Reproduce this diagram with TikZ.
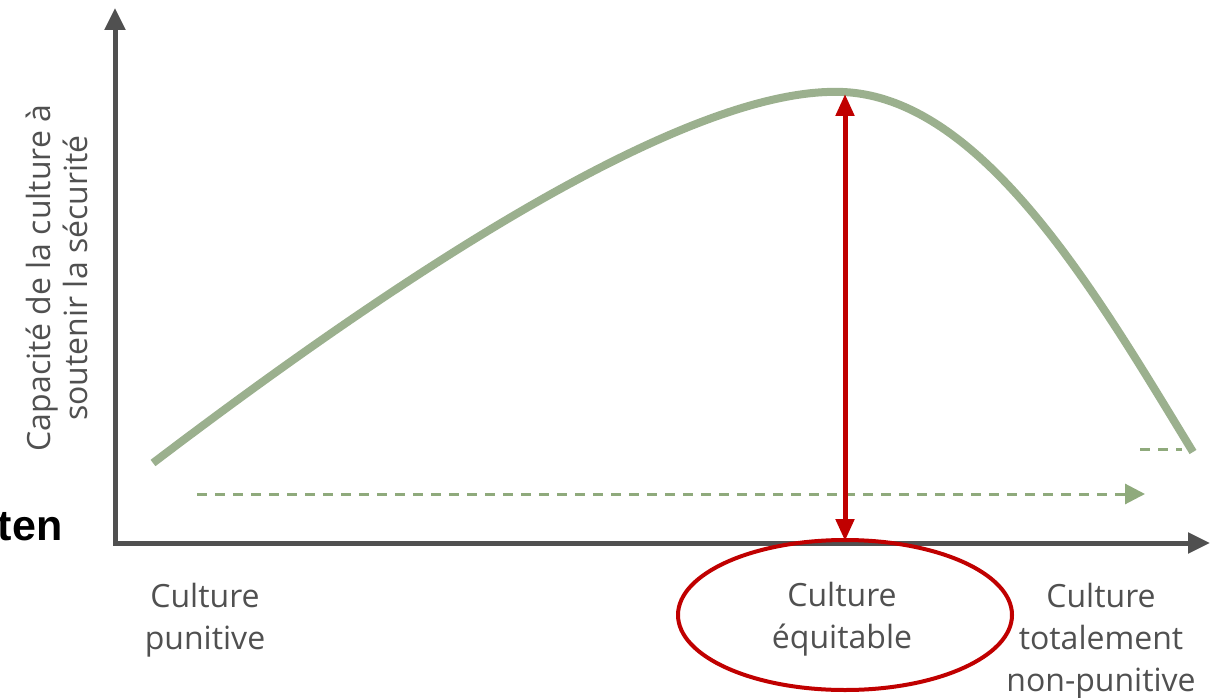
\documentclass[tikz,border=0pt]{standalone}
\usepackage{fontspec}
\setmainfont{Open Sans}
\newfontfamily\headfont{Liberation Sans}
\usetikzlibrary{arrows.meta,positioning,shapes.geometric}

\definecolor{axisgray}{HTML}{505050}
\definecolor{curvegreen}{HTML}{9BB08E}
\definecolor{dashgreen}{HTML}{8FAA7C}
\definecolor{fairred}{HTML}{C00000}
\definecolor{textgray}{HTML}{505050}

\begin{document}
\begin{tikzpicture}[x=1pt,y=-1pt,
    axis/.style={draw=axisgray,line width=5pt,line join=miter,
      {Triangle[length=22pt,width=20pt]}-{Triangle[length=22pt,width=20pt]}},
    culture/.style={text=textgray,font=\fontsize{32}{42}\selectfont,align=center},
    trend/.style={draw=dashgreen,line width=3pt,dash pattern=on 10pt off 8pt,
      -{Triangle[length=20pt,width=20pt]}}]
    \useasboundingbox (0,0) rectangle (1212,698);

    % axes
    \coordinate (ytop) at (115,8);
    \coordinate (origin) at (115,543);
    \coordinate (xend) at (1210,543);
    \draw[axis] (ytop) -- (origin) -- (xend);

    \node[culture,rotate=90,font=\fontsize{32}{37}\selectfont] (ylab) at (57,278)
      {Capacité de la culture à\\soutenir la sécurité};
    \node[anchor=base east,font=\headfont\bfseries\fontsize{43}{43}\selectfont] (cut) at (66,540) {ten};

    % support curve
    \coordinate (start) at (153,463);
    \coordinate (peak) at (843,92);
    \coordinate (end) at (1193,452);
    \draw[curvegreen,line width=8pt]
      (start) .. controls (440,245) and (700,86) .. (peak)
      .. controls (985,98) and (1100,300) .. (end);

    % trend arrows
    \coordinate (tleft) at (197,494);
    \coordinate (tright) at (1145,494);
    \draw[trend] (tleft) -- (tright);
    \coordinate (mleft) at (1140,449);
    \coordinate (mright) at (1182,449);
    \draw[dashgreen,line width=3pt,dash pattern=on 10pt off 8pt] (mleft) -- (mright);

    % culture labels
    \node[culture] (punitive) at (205,620) {Culture\\punitive};
    \node[culture,ellipse,draw=fairred,line width=4pt,minimum width=334pt,
      minimum height=150pt,inner sep=0pt] (fair) at (845,615) {};
    \node[culture] (fairtext) at (842,619) {Culture\\équitable};
    \node[culture] (nonpunitive) at (1101,641) {Culture\\totalement\\non-punitive};

    % optimum
    \coordinate (top) at (845,94);
    \coordinate (base) at (845,541);
    \draw[fairred,line width=5pt,
      {Triangle[length=22pt,width=18pt]}-{Triangle[length=22pt,width=18pt]}] (top) -- (base);
\end{tikzpicture}
\end{document}
